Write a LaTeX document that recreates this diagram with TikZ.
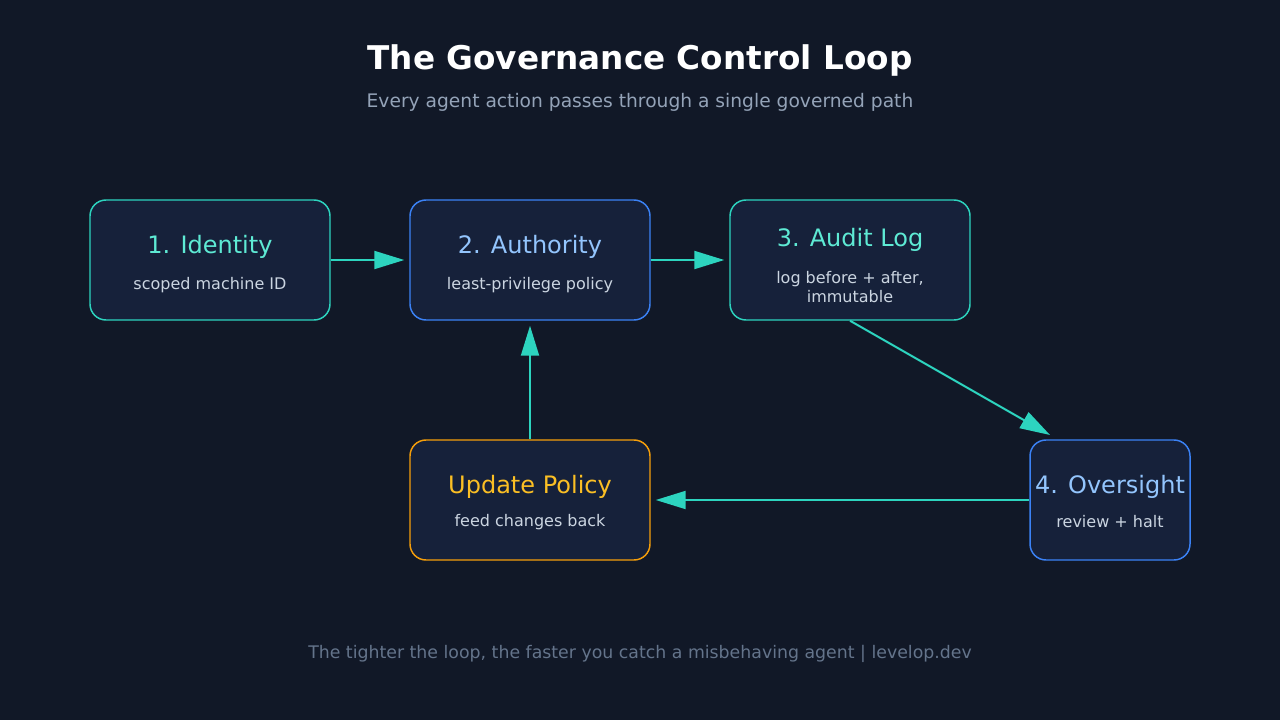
\documentclass[tikz,border=0pt]{standalone}
\usepackage{fontspec}
\setmainfont{DejaVu Sans}
\usetikzlibrary{arrows.meta}
\definecolor{bg}{HTML}{111827}
\definecolor{boxfill}{HTML}{16213A}
\definecolor{teal}{HTML}{2DD4BF}
\definecolor{blue}{HTML}{3B82F6}
\definecolor{orange}{HTML}{F59E0B}
\definecolor{tealtxt}{HTML}{5EEAD4}
\definecolor{bluetxt}{HTML}{93C5FD}
\definecolor{orangetxt}{HTML}{FBBF24}
\definecolor{subtxt}{HTML}{CBD5E1}
\definecolor{grey}{HTML}{94A3B8}
\definecolor{foot}{HTML}{64748B}
\begin{document}
\begin{tikzpicture}[x=0.75pt,y=-0.75pt,
  box/.style={draw=#1,fill=boxfill,rounded corners=12pt,line width=1.1pt,inner sep=0pt},
  ttl/.style={text=#1,font=\fontsize{18}{20}\selectfont},
  sub/.style={text=subtxt,font=\fontsize{12}{14.5}\selectfont,align=center},
  arr/.style={draw=teal,line width=1.5pt,-{Triangle[length=22.5pt,width=13.5pt]}}]
\fill[bg] (0,0) rectangle (1280,720);
\useasboundingbox (0,0) rectangle (1280,720);
\node[text=white,font=\bfseries\fontsize{24.5}{28}\selectfont] (title) at (640,60) {The Governance Control Loop};
\node[text=grey,font=\fontsize{14}{16}\selectfont] (subtitle) at (640,102) {Every agent action passes through a single governed path};
\node[box=teal,minimum width=180pt,minimum height=90pt] (id) at (210,260) {};
\node[box=blue,minimum width=180pt,minimum height=90pt] (auth) at (530,260) {};
\node[box=teal,minimum width=180pt,minimum height=90pt] (audit) at (850,260) {};
\node[box=blue,minimum width=120pt,minimum height=90pt] (over) at (1110,500) {};
\node[box=orange,minimum width=180pt,minimum height=90pt] (upd) at (530,500) {};
\node[ttl=tealtxt] (idt) at (210,247) {1. Identity};
\node[sub] (ids) at (210,285) {scoped machine ID};
\node[ttl=bluetxt] (autht) at (530,247) {2. Authority};
\node[sub] (auths) at (530,285) {least-privilege policy};
\node[ttl=tealtxt] (auditt) at (850,240) {3. Audit Log};
\node[sub] (audits) at (850,287) {log before + after,\\immutable};
\node[ttl=bluetxt] (overt) at (1110,487) {4. Oversight};
\node[sub] (overs) at (1110,522) {review + halt};
\node[ttl=orangetxt] (updt) at (530,487) {Update Policy};
\node[sub] (upds) at (530,522) {feed changes back};
\coordinate (ovin) at (1050,435);
\draw[arr,shorten >=3.75pt] (id.east) -- (auth.west);
\draw[arr,shorten >=3.75pt] (auth.east) -- (audit.west);
\draw[arr] (audit.south) -- (ovin);
\draw[arr,shorten >=3.75pt] (over.west) -- (upd.east);
\draw[arr,shorten >=3.75pt] (upd.north) -- (auth.south);
\node[text=foot,font=\fontsize{13}{15}\selectfont] (footer) at (640,654) {The tighter the loop, the faster you catch a misbehaving agent | levelop.dev};
\end{tikzpicture}
\end{document}
